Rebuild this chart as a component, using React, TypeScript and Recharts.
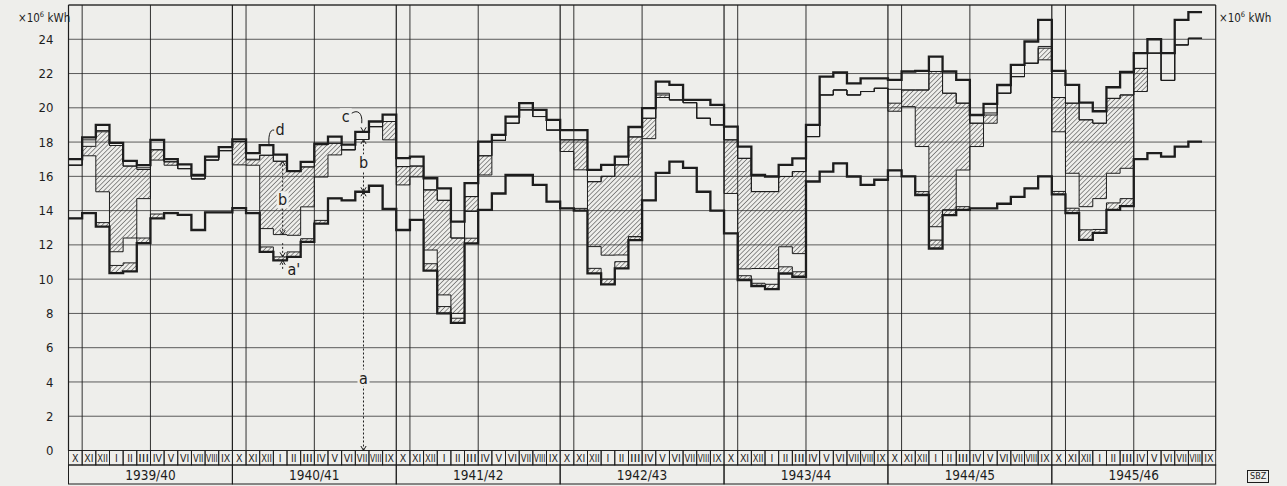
import React from 'react'
import { ComposedChart, Area, Line, XAxis, YAxis, CartesianGrid, ReferenceLine, ReferenceDot } from 'recharts'

const MONTHS = ['X', 'XI', 'XII', 'I', 'II', 'III', 'IV', 'V', 'VI', 'VII', 'VIII', 'IX']
const YEARS = ['1939/40', '1940/41', '1941/42', '1942/43', '1943/44', '1944/45', '1945/46']
const Y_TICKS = [0, 2, 4, 6, 8, 10, 12, 14, 16, 18, 20, 22, 24]

// monthly values in 10^6 kWh, Oct 1939 .. Sep 1946 (Sep 1946 not drawn)
// a: lower thick line
const a = [
  13.55, 13.85, 13.07, 10.35, 10.45, 12.1, 13.55, 13.85, 13.75, 12.87, 13.9, 13.9,
  14.15, 13.85, 11.59, 11.1, 11.3, 12.17, 13.24, 14.72, 14.6, 15.1, 15.45, 14.1,
  12.87, 13.46, 10.5, 8.0, 7.45, 12.09, 14.04, 15.0, 16.08, 16.08, 15.5, 14.52,
  14.13, 14.0, 10.34, 9.7, 10.63, 12.28, 14.6, 16.2, 16.86, 16.5, 15.1, 14.0,
  12.67, 9.95, 9.6, 9.42, 10.33, 10.14, 15.7, 16.28, 16.76, 15.99, 15.5, 15.8,
  16.35, 16.0, 14.91, 11.79, 13.74, 14.04, 14.13, 14.13, 14.4, 14.8, 15.3, 16.0,
  14.95, 13.85, 12.29, 12.7, 14.04, 14.26, 17.0, 17.35, 17.15, 17.74, 18.03, null,
]
// a + a' (hatched strip above a)
const aPrime = [
  13.55, 13.85, 13.3, 10.8, 10.95, 12.4, 13.8, 13.85, 13.75, 12.87, 13.9, 13.9,
  14.15, 13.85, 11.88, 11.3, 11.59, 12.36, 13.43, 14.72, 14.6, 15.1, 15.45, 14.1,
  12.87, 13.46, 10.9, 8.4, 7.72, 12.39, 14.04, 15.0, 16.08, 16.08, 15.5, 14.52,
  14.13, 14.13, 10.63, 10.0, 11.02, 12.48, 14.6, 16.2, 16.86, 16.5, 15.1, 14.0,
  12.67, 10.2, 9.76, 9.7, 10.72, 10.43, 15.7, 16.28, 16.76, 15.99, 15.5, 15.8,
  16.35, 16.0, 15.11, 12.28, 14.04, 14.23, 14.13, 14.13, 14.4, 14.8, 15.3, 16.0,
  15.12, 14.14, 12.88, 12.9, 14.45, 14.7, 17.0, 17.35, 17.15, 17.74, 18.03, null,
]
// b: lower and upper edge of the hatched part of b
const bLow = [
  16.65, 17.2, 15.1, 11.6, 12.4, 14.7, 16.95, 16.65, 16.45, 15.85, 16.95, 17.5,
  16.67, 16.65, 12.95, 12.6, 12.56, 14.22, 15.96, 17.25, 17.55, 18.15, 18.9, 18.13,
  15.5, 15.97, 11.7, 9.08, 8.0, 13.95, 16.08, 18.1, 19.1, 19.88, 19.49, 18.7,
  17.45, 16.38, 11.9, 11.4, 11.41, 12.48, 18.2, 20.6, 20.46, 20.3, 19.39, 19.0,
  15.0, 10.6, 10.62, 10.62, 11.89, 11.49, 18.32, 20.75, 21.04, 20.75, 20.95, 21.14,
  19.8, 20.07, 17.74, 13.06, 14.04, 16.37, 17.74, 19.1, 20.85, 21.82, 22.6, 22.8,
  18.6, 16.18, 14.23, 14.7, 16.18, 16.47, 20.95, 23.19, 21.6, 23.67, 24.06, null,
]
const bHigh = [
  16.65, 17.75, 18.6, 17.8, 16.6, 16.4, 17.55, 16.85, 16.45, 15.85, 16.95, 17.5,
  18.03, 16.96, 17.23, 16.88, 16.29, 16.55, 17.85, 17.93, 17.55, 18.15, 18.9, 19.2,
  16.57, 16.6, 15.21, 14.6, 12.4, 14.82, 17.2, 18.1, 19.1, 19.88, 19.49, 18.7,
  18.13, 18.13, 15.69, 16.0, 16.67, 18.3, 19.39, 20.75, 20.46, 20.3, 19.39, 19.0,
  18.13, 17.05, 15.11, 15.11, 15.99, 16.28, 18.32, 20.75, 21.04, 20.75, 20.95, 21.14,
  20.27, 21.04, 21.04, 22.12, 20.85, 20.27, 19.1, 19.58, 20.85, 21.82, 22.6, 23.48,
  20.6, 20.27, 19.3, 19.1, 20.55, 20.75, 22.3, 23.19, 21.6, 23.67, 24.06, null,
]
// c: thin line under the top line
const cLine = [
  16.65, 18.13, 18.67, 17.8, 16.6, 16.5, 17.55, 16.85, 16.45, 15.85, 16.95, 17.5,
  18.03, 17.0, 17.23, 16.88, 16.29, 16.55, 17.85, 17.93, 17.55, 18.15, 18.9, 19.2,
  16.57, 16.6, 15.21, 14.6, 12.4, 14.82, 17.2, 18.1, 19.1, 19.88, 19.49, 18.7,
  18.13, 18.13, 15.69, 16.0, 16.67, 18.3, 19.39, 20.85, 20.46, 20.3, 19.39, 19.0,
  18.13, 17.05, 15.11, 15.11, 15.99, 16.28, 18.32, 20.75, 21.04, 20.75, 20.95, 21.14,
  21.08, 21.04, 21.04, 22.12, 20.85, 20.27, 19.1, 19.7, 20.85, 21.82, 22.6, 23.58,
  20.6, 20.27, 19.3, 19.1, 20.55, 20.75, 22.3, 23.19, 21.6, 23.67, 24.06, null,
]
// d: upper thick line
const d = [
  17.0, 18.27, 19.0, 17.95, 16.9, 16.65, 18.13, 17.0, 16.7, 16.08, 17.15, 17.7,
  18.16, 17.35, 17.82, 17.27, 16.3, 16.84, 17.91, 18.32, 17.85, 18.6, 19.2, 19.6,
  17.06, 17.15, 15.89, 15.3, 13.36, 15.6, 18.03, 18.42, 19.49, 20.27, 19.88, 19.3,
  18.7, 18.7, 16.38, 16.67, 17.15, 18.88, 19.98, 21.53, 21.34, 20.46, 20.46, 20.17,
  18.9, 17.74, 16.08, 15.99, 16.67, 17.05, 19.0, 21.82, 22.06, 21.43, 21.72, 21.72,
  21.63, 22.12, 22.15, 22.99, 22.12, 21.63, 19.58, 20.23, 21.33, 22.5, 23.87, 25.13,
  22.15, 21.34, 20.3, 19.8, 21.2, 22.1, 23.19, 24.0, 23.19, 25.13, 25.58, null,
]

const N = 84
const INK = '#1d1d1d'
const PAPER = '#eeeeeb'
const FONT = "'DejaVu Sans Condensed', 'DejaVu Sans', sans-serif"
const PLOT_LEFT = 68.5
const PLOT_RIGHT = 1215.7
const MW = (PLOT_RIGHT - PLOT_LEFT) / N

// step points: month i starts at x = i; a closing point repeats the last month
const stepVal = (arr: (number | null)[], i: number) =>
  arr[i] ?? (i > 0 ? arr[i - 1] ?? null : null)

const rows = Array.from({ length: N + 1 }, (_, i) => {
  const r = {
    x: i,
    a: stepVal(a, i),
    ap: stepVal(aPrime, i),
    bl: stepVal(bLow, i),
    bh: stepVal(bHigh, i),
    c: stepVal(cLine, i),
    d: stepVal(d, i),
  }
  return {
    ...r,
    hatchA: r.a == null ? null : [r.a, r.ap],
    hatchB: r.bl == null ? null : [r.bl, r.bh],
  }
})

const gridX: number[] = []
YEARS.forEach((_, k) => gridX.push(12 * k, 12 * k + 1, 12 * k + 6))
gridX.push(N)

const monthTicks = Array.from({ length: N }, (_, i) => i + 0.5)
const yearTicks = YEARS.map((_, k) => 12 * k + 6)

const MonthTick = (props: any) => {
  const { x, y, payload } = props
  const label = MONTHS[Math.floor(payload.value) % 12]
  return (
    <g>
      <rect x={x - MW / 2} y={y} width={MW} height={14.5} fill="none" stroke={INK} strokeWidth={0.9} />
      <text
        x={x}
        y={y + 11.2}
        textAnchor="middle"
        fontSize={10.5}
        fontFamily={FONT}
        fill={INK}
        {...(label.length > 2 ? { textLength: label.length > 3 ? MW - 2 : MW - 3, lengthAdjust: 'spacingAndGlyphs' } : {})}
      >
        {label}
      </text>
    </g>
  )
}

const YearTick = (props: any) => {
  const { x, y, payload } = props
  const k = Math.round((payload.value - 6) / 12)
  return (
    <g>
      <rect x={x - 6 * MW} y={y} width={12 * MW} height={19} fill="none" stroke={INK} strokeWidth={1} />
      <text x={x} y={y + 14.5} textAnchor="middle" fontSize={13.5} fontFamily={FONT} fill={INK}>
        {YEARS[k]}
      </text>
    </g>
  )
}

const arrow = (dir: 'up' | 'down') => (p: any) => {
  const s = dir === 'down' ? -1 : 1
  return (
    <path
      d={`M${p.cx - 2.6},${p.cy + s * 4.5} L${p.cx},${p.cy} L${p.cx + 2.6},${p.cy + s * 4.5}`}
      fill="none"
      stroke={INK}
      strokeWidth={1}
    />
  )
}

const tag = (text: string, leader?: string) => (p: any) => (
  <g>
    <rect x={p.cx - 6} y={p.cy - 9} width={12} height={17} fill={PAPER} />
    <text x={p.cx} y={p.cy + 5} textAnchor="middle" fontSize={16} fontFamily={FONT} fill={INK}>
      {text}
    </text>
    {leader && <path d={leader} transform={`translate(${p.cx},${p.cy})`} fill="none" stroke={INK} strokeWidth={1} />}
  </g>
)

const dash = { stroke: INK, strokeWidth: 1, strokeDasharray: '2 2' }

export default function App() {
  return (
    <div style={{ position: 'fixed', left: 0, top: 0, width: 1287, height: 486, background: PAPER }}>
      <ComposedChart
        width={1287}
        height={486}
        data={rows}
        margin={{ top: 5, right: 21.3, bottom: 2, left: 0 }}
      >
        <defs>
          <pattern id="hatch" width="3.3" height="3.3" patternUnits="userSpaceOnUse" patternTransform="rotate(45)">
            <line x1="0" y1="0" x2="0" y2="3.3" stroke="#2e2e2e" strokeWidth="1" />
          </pattern>
        </defs>
        <CartesianGrid vertical={false} stroke="#4a4a4a" strokeWidth={0.9} yAxisId="l" />
        <XAxis
          dataKey="x"
          type="number"
          domain={[0, N]}
          ticks={monthTicks}
          interval={0}
          height={14.5}
          axisLine={false}
          tickLine={false}
          tickSize={0}
          tickMargin={0}
          tick={<MonthTick />}
        />
        <XAxis
          xAxisId="yr"
          dataKey="x"
          type="number"
          domain={[0, N]}
          ticks={yearTicks}
          interval={0}
          height={19}
          axisLine={false}
          tickLine={false}
          tickSize={0}
          tickMargin={0}
          tick={<YearTick />}
        />
        <YAxis
          yAxisId="l"
          domain={[0, 26]}
          ticks={Y_TICKS}
          interval={0}
          width={PLOT_LEFT}
          axisLine={false}
          tickLine={false}
          tickSize={0}
          tickMargin={15}
          tick={{ fill: INK, fontSize: 13, fontFamily: FONT }}
        />
        <YAxis
          yAxisId="r"
          orientation="right"
          domain={[0, 26]}
          ticks={Y_TICKS}
          interval={0}
          width={50}
          axisLine={false}
          tickLine={false}
          tickSize={0}
          tickMargin={6}
          tick={{ fill: INK, fontSize: 13, fontFamily: FONT, textAnchor: 'start' }}
        />
        <ReferenceLine yAxisId="l" y={26} stroke={INK} strokeWidth={1} />
        {gridX.map((gx) => (
          <ReferenceLine
            key={gx}
            yAxisId="l"
            x={gx}
            stroke={INK}
            strokeWidth={gx % 12 === 0 ? 1.2 : 0.9}
          />
        ))}

        <Area
          yAxisId="l"
          type="stepAfter"
          dataKey="hatchB"
          stroke="none"
          fill="url(#hatch)"
          fillOpacity={1}
          isAnimationActive={false}
          activeDot={false}
        />
        <Area
          yAxisId="l"
          type="stepAfter"
          dataKey="hatchA"
          stroke="none"
          fill="url(#hatch)"
          fillOpacity={1}
          isAnimationActive={false}
          activeDot={false}
        />
        {(['ap', 'bl', 'bh', 'c'] as const).map((k) => (
          <Line
            key={k}
            yAxisId="l"
            type="stepAfter"
            dataKey={k}
            stroke={INK}
            strokeWidth={1}
            dot={false}
            activeDot={false}
            isAnimationActive={false}
          />
        ))}
        <Line yAxisId="l" type="stepAfter" dataKey="a" stroke={INK} strokeWidth={2.3} dot={false} activeDot={false} isAnimationActive={false} />
        <Line yAxisId="l" type="stepAfter" dataKey="d" stroke={INK} strokeWidth={2.3} dot={false} activeDot={false} isAnimationActive={false} />

        {/* explanation marks, July 1941 */}
        <ReferenceLine yAxisId="l" segment={[{ x: 21.6, y: 0 }, { x: 21.6, y: 18.15 }]} {...dash} />
        <ReferenceDot yAxisId="l" x={21.6} y={0} r={0} shape={arrow('down')} />
        <ReferenceDot yAxisId="l" x={21.6} y={15.1} r={0} shape={arrow('down')} />
        <ReferenceDot yAxisId="l" x={21.6} y={15.1} r={0} shape={arrow('up')} />
        <ReferenceDot yAxisId="l" x={21.6} y={18.15} r={0} shape={arrow('up')} />
        <ReferenceDot yAxisId="l" x={21.6} y={18.6} r={0} shape={arrow('down')} />
        <ReferenceDot yAxisId="l" x={21.6} y={4.2} r={0} shape={tag('a')} />
        <ReferenceDot yAxisId="l" x={21.6} y={16.75} r={0} shape={tag('b')} />
        <ReferenceDot yAxisId="l" x={20.3} y={19.45} r={0} shape={tag('c', 'M6,-4 C12,-8 17,-4 16,6')} />

        {/* explanation marks, January 1941 */}
        <ReferenceLine yAxisId="l" segment={[{ x: 15.68, y: 12.6 }, { x: 15.68, y: 16.88 }]} {...dash} />
        <ReferenceLine yAxisId="l" segment={[{ x: 15.68, y: 10.6 }, { x: 15.68, y: 12.1 }]} {...dash} />
        <ReferenceDot yAxisId="l" x={15.68} y={16.88} r={0} shape={arrow('up')} />
        <ReferenceDot yAxisId="l" x={15.68} y={12.6} r={0} shape={arrow('down')} />
        <ReferenceDot yAxisId="l" x={15.68} y={11.3} r={0} shape={arrow('down')} />
        <ReferenceDot yAxisId="l" x={15.68} y={11.1} r={0} shape={arrow('up')} />
        <ReferenceDot yAxisId="l" x={15.68} y={14.6} r={0} shape={tag('b')} />
        <ReferenceDot yAxisId="l" x={16.5} y={10.55} r={0} shape={tag("a'")} />
        <ReferenceDot yAxisId="l" x={15.5} y={18.7} r={0} shape={tag('d', 'M-6,0 C-11,-1 -12,8 -11,16')} />
      </ComposedChart>
      <div style={{ position: 'absolute', left: 18, top: 10, fontFamily: FONT, fontSize: 11.5, color: INK, whiteSpace: 'nowrap' }}>
        ×10<sup style={{ fontSize: 7.5 }}>6</sup> kWh
      </div>
      <div style={{ position: 'absolute', left: 1219, top: 10, fontFamily: FONT, fontSize: 11.5, color: INK, whiteSpace: 'nowrap' }}>
        ×10<sup style={{ fontSize: 7.5 }}>6</sup> kWh
      </div>
      <div
        style={{
          position: 'absolute',
          left: 1247,
          top: 470,
          border: `1px solid ${INK}`,
          padding: '0 2px',
          fontFamily: FONT,
          fontSize: 9,
          lineHeight: '11px',
          color: INK,
        }}
      >
        SBZ
      </div>
    </div>
  )
}
